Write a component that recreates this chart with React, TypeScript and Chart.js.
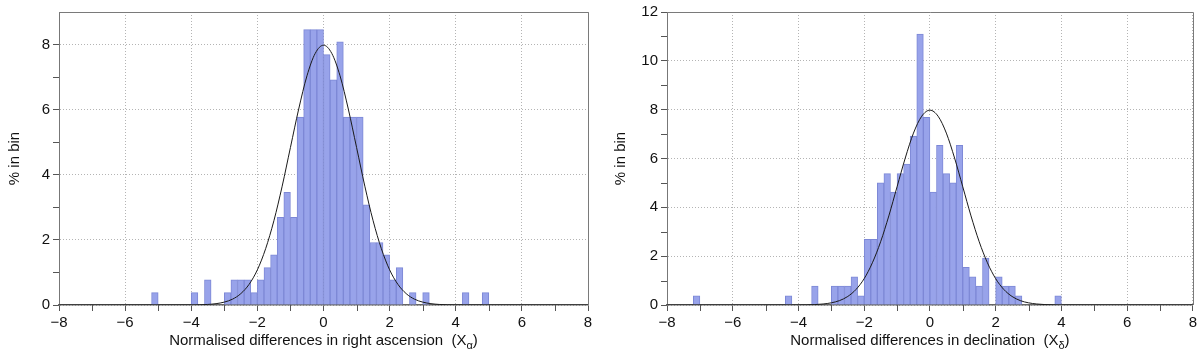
import React, { useEffect, useRef } from "react";
import { Chart, registerables } from "chart.js";

Chart.register(...registerables);

const FONT = '"Liberation Sans", Arial, Helvetica, sans-serif';

// Histogram bins (centres, bin width 0.2) and % in bin — right ascension
const raBins = [-5.1, -3.9, -3.5, -2.9, -2.7, -2.5, -2.3, -2.1, -1.9, -1.7, -1.5, -1.3, -1.1, -0.9, -0.7, -0.5, -0.3, -0.1, 0.1, 0.3, 0.5, 0.7, 0.9, 1.1, 1.3, 1.5, 1.7, 1.9, 2.1, 2.3, 2.7, 3.1, 4.3, 4.9];
const raPct = [0.38, 0.38, 0.77, 0.38, 0.77, 0.77, 0.77, 0.38, 0.77, 1.15, 1.54, 2.69, 3.46, 2.69, 5.77, 8.46, 8.46, 8.46, 7.69, 6.92, 8.08, 5.77, 5.77, 5.77, 3.08, 1.92, 1.92, 1.54, 0.77, 1.15, 0.38, 0.38, 0.38, 0.38];

// Histogram bins and % in bin — declination
const decBins = [-7.1, -4.3, -3.5, -2.9, -2.7, -2.5, -2.3, -2.1, -1.9, -1.7, -1.5, -1.3, -1.1, -0.9, -0.7, -0.5, -0.3, -0.1, 0.1, 0.3, 0.5, 0.7, 0.9, 1.1, 1.3, 1.5, 1.7, 2.1, 2.3, 2.5, 2.7, 3.9];
const decPct = [0.38, 0.38, 0.77, 0.77, 0.77, 0.77, 1.15, 0.38, 2.69, 2.69, 5.0, 5.38, 4.62, 5.38, 5.77, 6.92, 11.1, 7.69, 4.62, 6.54, 5.38, 5.0, 6.54, 1.54, 1.15, 0.77, 1.92, 1.15, 0.77, 0.77, 0.38, 0.38];

// Reference curve
const curveX = [-8, -4, -3.75, -3.5, -3.25, -3, -2.75, -2.5, -2.25, -2, -1.75, -1.5, -1.25, -1, -0.75, -0.5, -0.25, 0, 0.25, 0.5, 0.75, 1, 1.25, 1.5, 1.75, 2, 2.25, 2.5, 2.75, 3, 3.25, 3.5, 3.75, 4, 8];
const curveY = [0, 0.003, 0.007, 0.017, 0.041, 0.089, 0.18, 0.35, 0.635, 1.08, 1.73, 2.59, 3.65, 4.84, 6.02, 7.04, 7.73, 7.98, 7.73, 7.04, 6.02, 4.84, 3.65, 2.59, 1.73, 1.08, 0.635, 0.35, 0.18, 0.089, 0.041, 0.017, 0.007, 0.003, 0];

// Minor (unlabelled) tick marks
const xMinorTicks = [-7, -5, -3, -1, 1, 3, 5, 7];
const yMinorRA = [1, 3, 5, 7];
const yMinorDec = [1, 3, 5, 7, 9, 11];

const yTitle = "% in bin";
const xTitleRA = "Normalised differences in right ascension";
const xTitleDec = "Normalised differences in declination";
const subRA = "α";
const subDec = "δ";

function fmt(v: number) {
  return v < 0 ? "\u2212" + Math.abs(v) : String(v);
}

function decorPlugin(xTitle: string, sub: string, yTitleX: number, yMinor: number[]) {
  return {
    id: "decor",
    afterDraw(chart: any) {
      const { ctx, chartArea: a } = chart;
      const xs = chart.scales.x;
      const ys = chart.scales.y;
      ctx.save();
      // top and right frame
      ctx.strokeStyle = "#7a7a7a";
      ctx.lineWidth = 1;
      ctx.beginPath();
      ctx.moveTo(a.left, Math.round(a.top) + 0.5);
      ctx.lineTo(Math.round(a.right) + 0.5, Math.round(a.top) + 0.5);
      ctx.lineTo(Math.round(a.right) + 0.5, a.bottom);
      ctx.stroke();

      // minor tick marks
      ctx.strokeStyle = "#555";
      ctx.beginPath();
      for (const v of xMinorTicks) {
        const px = Math.round(xs.getPixelForValue(v)) + 0.5;
        ctx.moveTo(px, a.bottom);
        ctx.lineTo(px, a.bottom + 6);
      }
      for (const v of yMinor) {
        const py = Math.round(ys.getPixelForValue(v)) + 0.5;
        ctx.moveTo(a.left - 6, py);
        ctx.lineTo(a.left, py);
      }
      ctx.stroke();

      ctx.fillStyle = "#111";
      // x title with subscript
      const mainFont = `15px ${FONT}`;
      const subFont = `11px ${FONT}`;
      const part1 = xTitle + "  (X";
      const part3 = ")";
      ctx.font = mainFont;
      const w1 = ctx.measureText(part1).width;
      const w3 = ctx.measureText(part3).width;
      ctx.font = subFont;
      const w2 = ctx.measureText(sub).width;
      const total = w1 + w2 + w3;
      const cx = (a.left + a.right) / 2;
      let x = cx - total / 2;
      const base = 345;
      ctx.textBaseline = "alphabetic";
      ctx.textAlign = "left";
      ctx.font = mainFont;
      ctx.fillText(part1, x, base);
      x += w1;
      ctx.font = subFont;
      ctx.fillText(sub, x, base + 4);
      x += w2;
      ctx.font = mainFont;
      ctx.fillText(part3, x, base);

      // y title
      ctx.save();
      ctx.translate(yTitleX, (a.top + a.bottom) / 2);
      ctx.rotate(-Math.PI / 2);
      ctx.textAlign = "center";
      ctx.textBaseline = "middle";
      ctx.font = mainFont;
      ctx.fillText(yTitle, 0, 0);
      ctx.restore();
      ctx.restore();
    },
  };
}

function makeConfig(
  bins: number[],
  pct: number[],
  yMax: number,
  yMinor: number[],
  yAxisWidth: number,
  rightPad: number,
  xTitle: string,
  sub: string,
  yTitleX: number
): any {
  return {
    type: "bar",
    data: {
      datasets: [
        {
          type: "line",
          data: curveX.map((x, i) => ({ x, y: curveY[i] })),
          borderColor: "#1a1a1a",
          borderWidth: 1,
          pointRadius: 0,
          fill: false,
          cubicInterpolationMode: "monotone",
          order: 0,
        },
        {
          type: "bar",
          data: bins.map((x, i) => ({ x, y: pct[i] })),
          backgroundColor: "#98a3ea",
          borderColor: "#7d88d6",
          borderWidth: 1,
          barPercentage: 1,
          categoryPercentage: 1,
          order: 1,
        },
      ],
    },
    options: {
      animation: false,
      responsive: false,
      layout: { padding: { top: 6, right: rightPad, left: 0, bottom: 0 } },
      plugins: { legend: { display: false }, tooltip: { enabled: false }, title: { display: false } },
      scales: {
        x: {
          type: "linear",
          min: -8,
          max: 8,
          offset: false,
          afterFit: (s: any) => {
            s.height = 47;
          },
          ticks: {
            stepSize: 2,
            autoSkip: false,
            includeBounds: false,
            maxRotation: 0,
            padding: 3,
            color: "#111",
            font: { family: FONT, size: 15 },
            callback: (v: any) => fmt(Number(v)),
          },
          grid: {
            offset: false,
            color: "#b4b4b4",
            tickColor: "#555",
            tickLength: 6,
            lineWidth: 1,
          },
          border: { color: "#666", width: 1.5, dash: [1, 2] },
        },
        y: {
          type: "linear",
          min: 0,
          max: yMax,
          afterFit: (s: any) => {
            s.width = yAxisWidth;
          },
          ticks: {
            stepSize: 2,
            autoSkip: false,
            includeBounds: false,
            padding: 3,
            color: "#111",
            font: { family: FONT, size: 15 },
            callback: (v: any) => String(v),
          },
          grid: {
            color: "#b4b4b4",
            tickColor: "#555",
            tickLength: 6,
            lineWidth: 1,
          },
          border: { color: "#777", width: 1, dash: [1, 2] },
        },
      },
    },
    plugins: [decorPlugin(xTitle, sub, yTitleX, yMinor)],
  };
}

function Hist(props: { cfg: () => any; left: number }) {
  const ref = useRef<HTMLCanvasElement | null>(null);
  useEffect(() => {
    if (!ref.current) return;
    const chart = new Chart(ref.current, props.cfg());
    return () => chart.destroy();
  }, []);
  return (
    <div style={{ position: "absolute", left: props.left, top: 0, width: 600, height: 352 }}>
      <canvas ref={ref} width={600} height={352} style={{ display: "block", width: 600, height: 352 }} />
    </div>
  );
}

export default function App() {
  return (
    <div style={{ position: "absolute", left: 0, top: 0, width: 1200, height: 352, background: "#fff", overflow: "hidden" }}>
      <Hist left={0} cfg={() => makeConfig(raBins, raPct, 9, yMinorRA, 59, 12, xTitleRA, subRA, 15)} />
      <Hist left={600} cfg={() => makeConfig(decBins, decPct, 12, yMinorDec, 67, 4, xTitleDec, subDec, 21)} />
    </div>
  );
}
